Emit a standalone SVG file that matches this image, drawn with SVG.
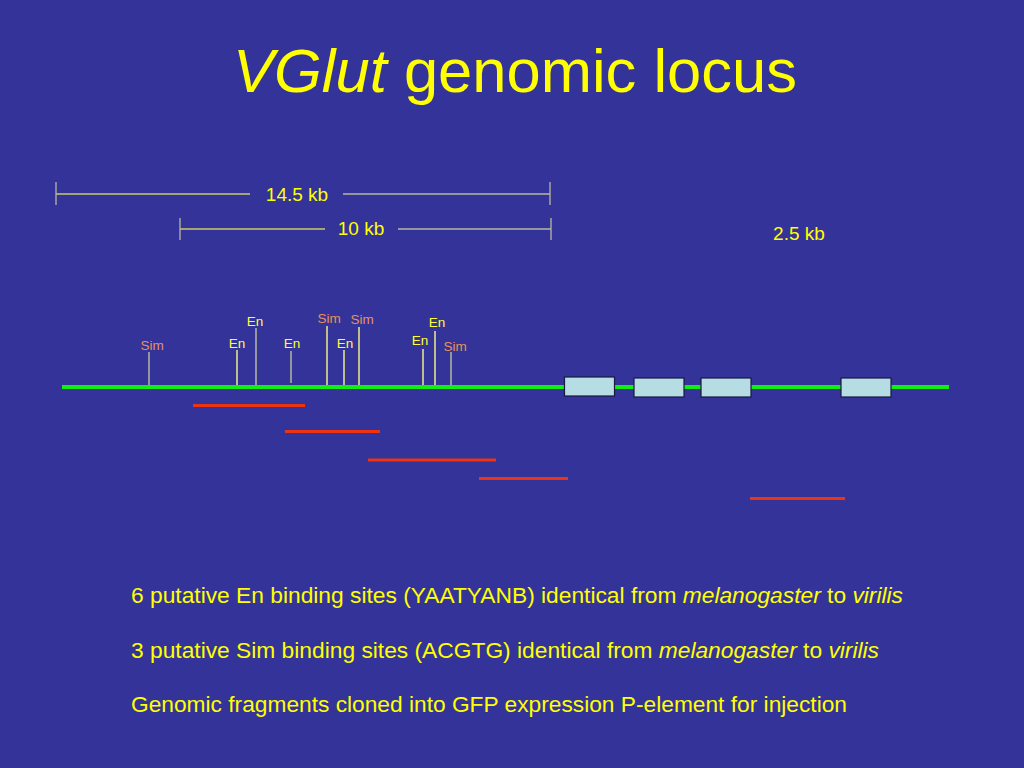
<svg xmlns="http://www.w3.org/2000/svg" width="1024" height="768" viewBox="0 0 1024 768">
<style>
.t{font-family:"Liberation Sans",Arial,sans-serif;fill:#ffff00}
.lab{font-family:"Liberation Sans",Arial,sans-serif;font-size:13.5px;text-anchor:middle}
.en{fill:#ffff33}
.sim{fill:#e8905a}
.enl{stroke:#eeee88;stroke-width:1.5}
.siml{stroke:#b8b8a0;stroke-width:1.5}
.sb{stroke:#cccc66;stroke-width:1.3}
.sbr{stroke:#b8b8a0;stroke-width:1.3}
.exon{fill:#b5dde3;stroke:#1a1a40;stroke-width:1.2}
.frag{stroke:#ee3311;stroke-width:3}
</style>
<rect width="1024" height="768" fill="#333399"/>
<g id="title">
<text class="t" x="233" y="92" font-size="61" textLength="564" lengthAdjust="spacingAndGlyphs"><tspan font-style="italic">VGlut</tspan> genomic locus</text>
</g>
<g id="scale-14-5kb">
<line class="sb" x1="56" y1="194" x2="250" y2="194"/>
<line class="sbr" x1="343" y1="194" x2="550" y2="194"/>
<line class="sbr" x1="56" y1="182" x2="56" y2="205"/>
<line class="sbr" x1="550" y1="182" x2="550" y2="205"/>
<text class="t" x="297" y="201" font-size="19" text-anchor="middle">14.5 kb</text>
</g>
<g id="scale-10kb">
<line class="sb" x1="180" y1="229" x2="325" y2="229"/>
<line class="sbr" x1="398" y1="229" x2="551" y2="229"/>
<line class="sbr" x1="180" y1="218" x2="180" y2="240"/>
<line class="sbr" x1="551" y1="218" x2="551" y2="240"/>
<text class="t" x="361" y="235" font-size="19" text-anchor="middle">10 kb</text>
</g>
<g id="scale-2-5kb">
<text class="t" x="799" y="240" font-size="19" text-anchor="middle">2.5 kb</text>
</g>
<g id="connectors">
<line x1="62" y1="387" x2="949" y2="387" stroke="#11ee11" stroke-width="4"/>
</g>
<g id="exons">
<rect class="exon" x="564.5" y="377" width="50" height="19"/>
<rect class="exon" x="634" y="378" width="50" height="19"/>
<rect class="exon" x="701" y="378" width="50" height="19"/>
<rect class="exon" x="841" y="378" width="50" height="19"/>
</g>
<g id="sites">
<line class="siml" x1="149" y1="352" x2="149" y2="385"/>
<text class="lab sim" x="152" y="350">Sim</text>
<line class="enl" x1="237" y1="350" x2="237" y2="385"/>
<text class="lab en" x="237" y="348">En</text>
<line class="siml" x1="256" y1="328" x2="256" y2="385"/>
<text class="lab en" x="255" y="326">En</text>
<line class="siml" x1="291" y1="351" x2="291" y2="383"/>
<text class="lab en" x="292" y="348">En</text>
<line class="enl" x1="327" y1="326" x2="327" y2="385"/>
<text class="lab sim" x="329" y="323">Sim</text>
<line class="enl" x1="344" y1="350" x2="344" y2="385"/>
<text class="lab en" x="345" y="348">En</text>
<line class="enl" x1="359" y1="327" x2="359" y2="385"/>
<text class="lab sim" x="362" y="324">Sim</text>
<line class="enl" x1="423" y1="349" x2="423" y2="385"/>
<text class="lab en" x="420" y="345">En</text>
<line class="enl" x1="435" y1="331" x2="435" y2="385"/>
<text class="lab en" x="437" y="327">En</text>
<line class="siml" x1="451" y1="352" x2="451" y2="385"/>
<text class="lab sim" x="455" y="351">Sim</text>
</g>
<g id="fragments">
<line class="frag" x1="193" y1="405.5" x2="305" y2="405.5"/>
<line class="frag" x1="285" y1="431.5" x2="380" y2="431.5"/>
<line class="frag" x1="368" y1="460" x2="496" y2="460"/>
<line class="frag" x1="479" y1="478.5" x2="568" y2="478.5"/>
<line class="frag" x1="750" y1="498.5" x2="845" y2="498.5"/>
</g>
<g id="notes">
<text class="t" x="131" y="603" font-size="22" textLength="772" lengthAdjust="spacingAndGlyphs">6 putative En binding sites (YAATYANB) identical from <tspan font-style="italic">melanogaster</tspan> to <tspan font-style="italic">virilis</tspan></text>
<text class="t" x="131" y="658" font-size="22" textLength="748" lengthAdjust="spacingAndGlyphs">3 putative Sim binding sites (ACGTG) identical from <tspan font-style="italic">melanogaster</tspan> to <tspan font-style="italic">virilis</tspan></text>
<text class="t" x="131" y="712" font-size="22" textLength="716" lengthAdjust="spacingAndGlyphs">Genomic fragments cloned into GFP expression P-element for injection</text>
</g>
</svg>
